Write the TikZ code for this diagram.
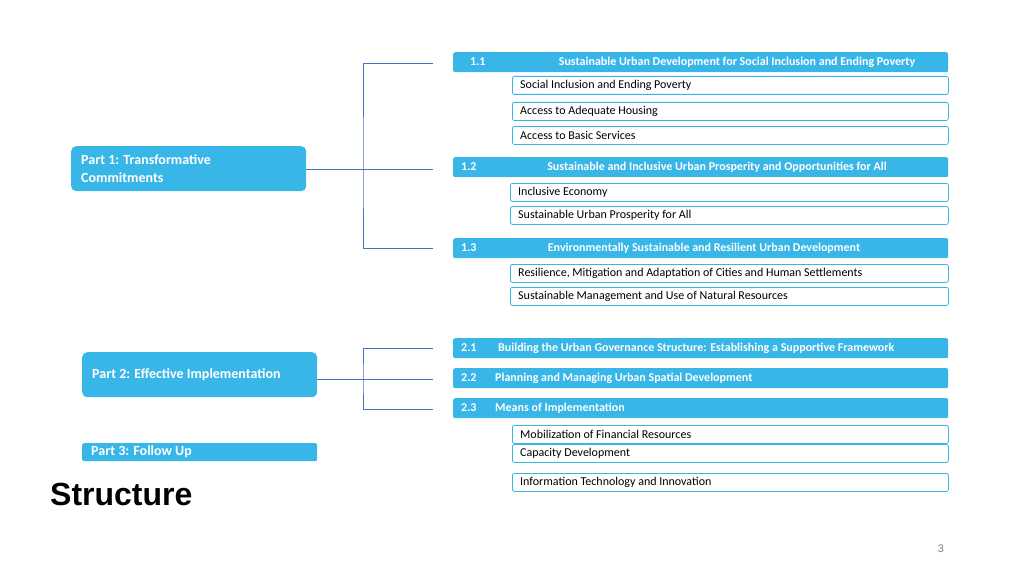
\documentclass[tikz,border=0pt]{standalone}
\usepackage{fontspec}
\setmainfont{Carlito}
\newfontfamily\titlefont{Liberation Sans}
\usetikzlibrary{positioning}
\definecolor{barblue}{RGB}{56,182,232}
\definecolor{linkblue}{RGB}{68,114,196}
\begin{document}
\begin{tikzpicture}[x=1pt, y=-1pt,
    bar/.style = {fill=barblue, rounded corners=2pt, anchor=north west, minimum width=495pt, minimum height=20pt, inner sep=0pt},
    sub/.style = {draw=barblue, thick, fill=white, rounded corners=2pt, anchor=north west, minimum height=18pt, inner sep=0pt},
    part/.style = {fill=barblue, rounded corners=5pt, anchor=north west, minimum width=235pt, inner sep=0pt},
    btxt/.style = {text=white, font=\bfseries\fontsize{12}{14}\selectfont, anchor=west, inner sep=0pt},
    stxt/.style = {text=black, font=\fontsize{12}{14}\selectfont, anchor=west, inner sep=0pt},
    ptxt/.style = {btxt, font=\bfseries\fontsize{14}{18}\selectfont},
    link/.style = {draw=linkblue, line width=0.6pt}]
  \useasboundingbox (0,0) rectangle (1024,575);

  % parts
  \node[part, minimum height=45pt] (p1) at (71,146) {};
  \node[ptxt, align=left] at (81,169) {Part 1: Transformative\\Commitments};
  \node[part, minimum height=45pt] (p2) at (82,352) {};
  \node[ptxt] at (92,375) {Part 2: Effective Implementation};
  \node[part, minimum height=18pt, rounded corners=2pt] (p3) at (82,443) {};
  \node[ptxt] at (91,452) {Part 3: Follow Up};
  \node[anchor=west, inner sep=0pt, font=\titlefont\bfseries\fontsize{32}{36}\selectfont] (title) at (50,494) {Structure};
  \node[text=gray, font=\titlefont\fontsize{11}{13}\selectfont] (page) at (941,549) {3};

  % section bars
  \node[bar] (b11) at (453,52) {};
  \node[btxt] at (470,62) {1.1};
  \node[btxt, anchor=center] at (737,62) {Sustainable Urban Development for Social Inclusion and Ending Poverty};
  \node[bar] (b12) at (453,157) {};
  \node[btxt] at (461,167) {1.2};
  \node[btxt, anchor=center] at (717,167) {Sustainable and Inclusive Urban Prosperity and Opportunities for All};
  \node[bar] (b13) at (453,238) {};
  \node[btxt] at (461,248) {1.3};
  \node[btxt, anchor=center] at (704,248) {Environmentally Sustainable and Resilient Urban Development};
  \node[bar] (b21) at (453,338) {};
  \node[btxt] at (461,348) {2.1};
  \node[btxt] at (498,348) {Building the Urban Governance Structure: Establishing a Supportive Framework};
  \node[bar] (b22) at (453,368) {};
  \node[btxt] at (461,378) {2.2};
  \node[btxt] at (495,378) {Planning and Managing Urban Spatial Development};
  \node[bar] (b23) at (453,398) {};
  \node[btxt] at (461,408) {2.3};
  \node[btxt] at (495,408) {Means of Implementation};

  % sub boxes
  \foreach \y/\t in {76/Social Inclusion and Ending Poverty, 102/Access to Adequate Housing, 126/Access to Basic Services,
                     425/Mobilization of Financial Resources, 444/Capacity Development, 473/Information Technology and Innovation} {
    \node[sub, minimum width=436pt] at (512,\y) {};
    \node[stxt] at (520,\y+9) {\t};
  }
  \foreach \y/\t in {183/Inclusive Economy, 206/Sustainable Urban Prosperity for All,
                     264/{Resilience, Mitigation and Adaptation of Cities and Human Settlements}, 287/Sustainable Management and Use of Natural Resources} {
    \node[sub, minimum width=438pt] at (510,\y) {};
    \node[stxt] at (518,\y+9) {\t};
  }

  % connectors
  \coordinate (j1) at (363,169);
  \coordinate (e11) at (433,63);
  \coordinate (e12) at (433,169);
  \coordinate (e13) at (433,248);
  \draw[link] (p1.east |- e12) -- (e12);
  \draw[link] (e11) -| (j1) |- (e13);
  \coordinate (j2) at (363,379);
  \coordinate (e21) at (433,348);
  \coordinate (e22) at (433,379);
  \coordinate (e23) at (433,409);
  \draw[link] (p2.east |- e22) -- (e22);
  \draw[link] (e21) -| (j2) |- (e23);
\end{tikzpicture}
\end{document}
